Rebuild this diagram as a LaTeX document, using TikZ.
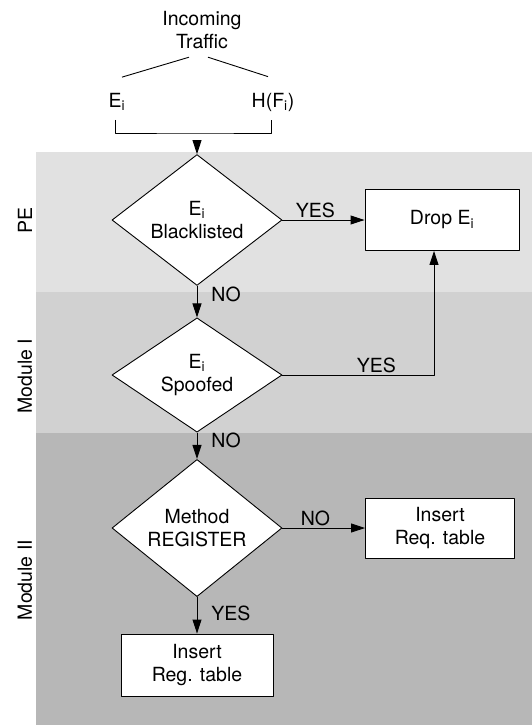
\documentclass[tikz,border=0pt]{standalone}
\usepackage{fontspec}
\setmainfont{TeX Gyre Heros}
\usetikzlibrary{shapes.geometric,arrows.meta}
\definecolor{bandpe}{HTML}{E1E1E1}
\definecolor{bandone}{HTML}{D1D1D1}
\definecolor{bandtwo}{HTML}{B7B7B7}
\newcommand{\Ei}{E\textsubscript{i}}

\begin{document}
\begin{tikzpicture}[x=1pt,y=-1pt,>={Triangle[length=14pt,width=9pt]}, font=\fontsize{19.5}{23.5}\selectfont, line join=round,
	decision/.style={diamond, draw, fill=white, line width=0.9pt, inner sep=0pt, minimum width=170pt, minimum height=103pt, align=center},
	action/.style={draw, fill=white, line width=0.9pt, align=center},
	flow/.style={->, line width=0.9pt},
	lbl/.style={inner sep=2pt}]
	\useasboundingbox (0,0) rectangle (532,725);
	% module bands
	\fill[bandpe] (36,152) rectangle (532,292);
	\fill[bandone] (36,292) rectangle (532,433);
	\fill[bandtwo] (36,433) rectangle (532,725);
	\node[rotate=90] (pe) at (25,220) {PE};
	\node[rotate=90] (modone) at (25,376) {Module I};
	\node[rotate=90] (modtwo) at (25,580) {Module II};
	% incoming traffic
	\node[align=center, inner sep=0pt] (traffic) at (202,30) {Incoming\\Traffic};
	\node[inner sep=0pt] (ei) at (117,102) {\Ei};
	\node[inner sep=0pt] (hfi) at (273,102) {H(F\textsubscript{i})};
	\draw[line width=0.9pt] ([xshift=-13pt,yshift=-8pt]traffic.south)--([xshift=5pt,yshift=16pt]ei.north);
	\draw[line width=0.9pt] ([xshift=6pt,yshift=-8pt]traffic.south)--([xshift=-5pt,yshift=16pt]hfi.north);
	\coordinate (merge) at (197,133);
	\draw[line width=0.9pt] ([xshift=-2pt,yshift=-9pt]ei.south) coordinate (bl) |- (merge) -| ([xshift=-2pt]bl -| hfi);
	% decisions
	\node[decision] (blk) at (197,220) {\Ei\\Blacklisted};
	\node[decision] (spf) at (197,375) {\Ei\\Spoofed};
	\node[decision] (meth) at (197,528) {Method\\REGISTER};
	\node[action, minimum width=154pt, minimum height=61pt] (drop) at (442,220) {Drop \Ei};
	\node[action, minimum width=149pt, minimum height=60pt] (reqtbl) at (440,528) {Insert\\Req. table};
	\node[action, minimum width=152pt, minimum height=62pt] (regtbl) at (197,665) {Insert\\Reg. table};
	% connectors
	\draw[flow] ([yshift=-10pt]merge)--(blk);
	\draw[flow] (blk)--(drop) node[lbl, pos=0.4, above]{YES};
	\draw[flow] (blk)--(spf) node[lbl, pos=0.28, right=12pt]{NO};
	\draw[flow] (spf.east) -| ([xshift=-8pt]drop.south) node[lbl, pos=0.31, above]{YES};
	\draw[flow] (spf)--(meth) node[lbl, pos=0.3, right=12pt]{NO};
	\draw[flow] (meth)--(reqtbl) node[lbl, pos=0.4, above]{NO};
	\draw[flow] (meth)--(regtbl) node[lbl, pos=0.45, right=12pt]{YES};
\end{tikzpicture}
\end{document}
